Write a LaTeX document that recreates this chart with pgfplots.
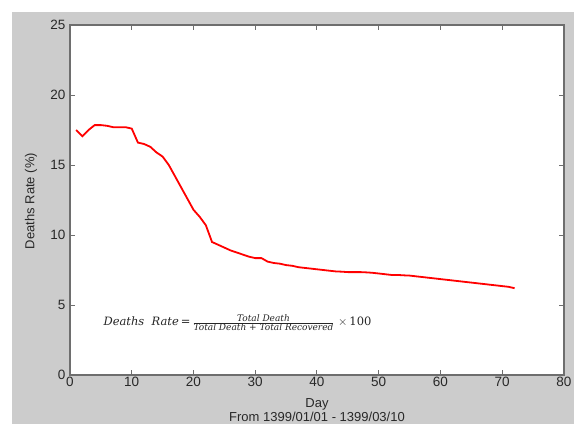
\documentclass[border=0pt]{standalone}
\usepackage{pgfplots}
\pgfplotsset{compat=1.18}
\usepackage{fontspec}
\setmainfont{Liberation Sans}
\newfontfamily\fml{DejaVu Serif}
\definecolor{figbg}{RGB}{204,204,204}
\definecolor{axgray}{RGB}{110,110,110}
\definecolor{txtgray}{RGB}{40,40,40}
\pgfplotstableread{
x y
1 17.5
2 17.05
3 17.5
4 17.85
5 17.85
6 17.8
7 17.7
8 17.7
9 17.7
10 17.6
11 16.6
12 16.5
13 16.3
14 15.9
15 15.6
16 15.0
17 14.2
18 13.4
19 12.6
20 11.8
21 11.3
22 10.7
23 9.5
24 9.3
25 9.1
26 8.9
27 8.75
28 8.6
29 8.45
30 8.35
31 8.35
32 8.1
33 8.0
34 7.95
35 7.85
36 7.8
37 7.7
38 7.65
39 7.6
40 7.55
41 7.5
42 7.45
43 7.4
44 7.38
45 7.35
46 7.35
47 7.35
48 7.33
49 7.3
50 7.25
51 7.2
52 7.15
53 7.15
54 7.12
55 7.1
56 7.05
57 7.0
58 6.95
59 6.9
60 6.85
61 6.8
62 6.75
63 6.7
64 6.65
65 6.6
66 6.55
67 6.5
68 6.45
69 6.4
70 6.35
71 6.3
72 6.2
}\deathrate
\begin{document}
\begin{tikzpicture}[x=1pt,y=1pt]
\path[use as bounding box, fill=white] (0,0) rectangle (574,424);
\fill[figbg] (12,0) rectangle (574,412);
\begin{axis}[
  at={(70pt,49pt)}, anchor=south west,
  width=494pt, height=350pt, scale only axis,
  xmin=0, xmax=80, ymin=0, ymax=25,
  xtick={0,10,...,80}, ytick={0,5,...,25},
  axis background/.style={fill=white},
  axis line style={axgray, line width=2pt},
  tick align=inside,
  major tick length=5pt,
  every tick/.style={axgray, line width=1pt},
  tick label style={font=\fontsize{13.5}{15}\selectfont, text=txtgray},
  xticklabel style={yshift=1pt},
  yticklabel style={xshift=-1pt},
  /pgf/number format/assume math mode=true,
  clip=false,
]
\addplot[red, line width=1.8pt] table[x=x,y=y] {\deathrate};
\node[anchor=west, text=black!85, inner sep=0pt] at (axis cs:5.4,3.75) {\fml\itshape\fontsize{11.5}{13}\selectfont
  Deaths\ \ Rate\,=\,$\frac{\hbox{\fml\itshape\fontsize{9}{10}\selectfont Total Death}}{\hbox{\fml\itshape\fontsize{9}{10}\selectfont Total Death + Total Recovered}}$\ {\upshape$\times$\,100}};
\end{axis}
\node[text=txtgray, font=\fontsize{13}{15}\selectfont] at (317,20) {Day};
\node[text=txtgray, font=\fontsize{13}{15}\selectfont, anchor=base] at (317,3) {From 1399/01/01 - 1399/03/10};
\node[text=txtgray, font=\fontsize{13}{15}\selectfont, rotate=90] at (31,223) {Deaths Rate (\%)};
\end{tikzpicture}
\end{document}
